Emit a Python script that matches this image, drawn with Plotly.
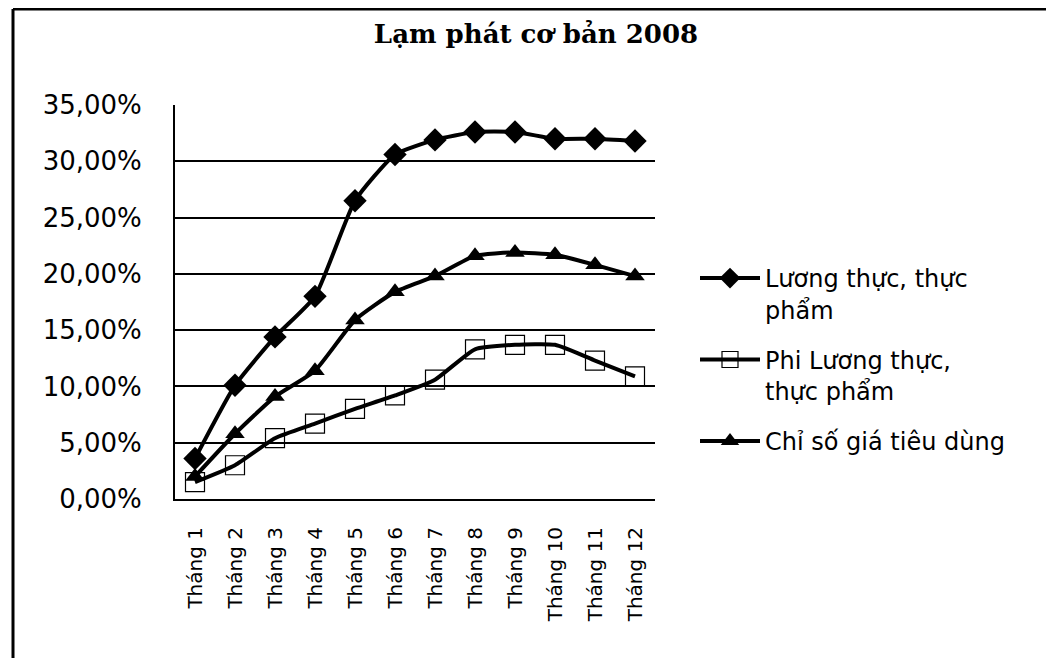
import numpy as np
import plotly.graph_objects as go

months = ["Tháng 1", "Tháng 2", "Tháng 3", "Tháng 4", "Tháng 5", "Tháng 6",
          "Tháng 7", "Tháng 8", "Tháng 9", "Tháng 10", "Tháng 11", "Tháng 12"]
food = [3.6, 10.1, 14.4, 18.0, 26.5, 30.6, 31.9, 32.6, 32.6, 32.0, 32.0, 31.8]
nonfood = [1.5, 3.0, 5.4, 6.7, 8.0, 9.2, 10.6, 13.3, 13.7, 13.7, 12.3, 10.9]
cpi = [2.0, 5.8, 9.1, 11.4, 15.9, 18.4, 19.8, 21.6, 21.9, 21.7, 20.8, 19.8]
names = ["Lương thực, thực<br>phẩm", "Phi Lương thực,<br>thực phẩm", "Chỉ số giá tiêu dùng"]

# page body offset of the rendered figure (pixels)
OFF = 8
W, H = 1054 - OFF, 658 - OFF
# plot area in screen pixels
SL, SR, ST, SB = 175, 655, 105, 499
L, R, T, B = SL - OFF, SR - OFF, ST - OFF, SB - OFF
pw, ph = R - L, B - T
def px(sx):
    return (sx - OFF - L) / pw
def py(sy):
    return (B - (sy - OFF)) / ph

font = "DejaVu Sans"
fig = go.Figure()
specs = [
    (food, names[0], dict(symbol="diamond", size=18, color="black")),
    (nonfood, names[1], dict(symbol="square-open", size=19, color="black", line=dict(width=1.2, color="black"))),
    (cpi, names[2], dict(symbol="triangle-up", size=17, color="black")),
]
for i, (vals, nm, mk) in enumerate(specs):
    fig.add_trace(go.Scatter(
        x=months, y=np.array(vals) / 100, name=nm, mode="lines+markers",
        line=dict(color="black", width=4, shape="spline", smoothing=0.5),
        marker=mk, legendgroup=str(i),
    ))

fig.update_layout(
    width=W, height=H,
    margin=dict(l=L, r=W - R, t=T, b=H - B, autoexpand=False),
    paper_bgcolor="white", plot_bgcolor="white",
    separators=",.",
    title=dict(text="<b>Lạm phát cơ bản 2008</b>", x=(536 - OFF) / W, xanchor="center",
               y=1 - (34 - OFF) / H, yanchor="middle",
               font=dict(family="DejaVu Serif", size=26, color="black")),
    showlegend=True,
    legend=dict(x=px(695), y=py(256), xanchor="left", yanchor="top",
                font=dict(family=font, size=24, color="black"),
                tracegroupgap=16, bgcolor="rgba(0,0,0,0)", itemwidth=60,
                valign="top"),
    font=dict(family=font, color="black"),
)
fig.update_xaxes(
    type="category", range=[-0.5, 11.5], tickangle=-90,
    tickfont=dict(family=font, size=20, color="black"),
    showgrid=False, showline=True, linecolor="black", linewidth=2,
    ticks="", ticklabelstandoff=18,
)
fig.update_yaxes(
    range=[0, 0.35], dtick=0.05, tickformat=".2%",
    tickfont=dict(family=font, size=26, color="black"),
    showgrid=True, gridcolor="black", gridwidth=2,
    showline=True, linecolor="black", linewidth=2,
    ticks="", ticklabelstandoff=26, zeroline=False,
)
# outer frame (left and top edges visible)
fig.add_shape(type="line", xref="paper", yref="paper",
              x0=px(13), x1=px(13), y0=py(9), y1=py(720),
              line=dict(color="black", width=3))
fig.add_shape(type="line", xref="paper", yref="paper",
              x0=px(13), x1=px(1100), y0=py(9), y1=py(9),
              line=dict(color="black", width=3))

fig.write_html("out.html")
